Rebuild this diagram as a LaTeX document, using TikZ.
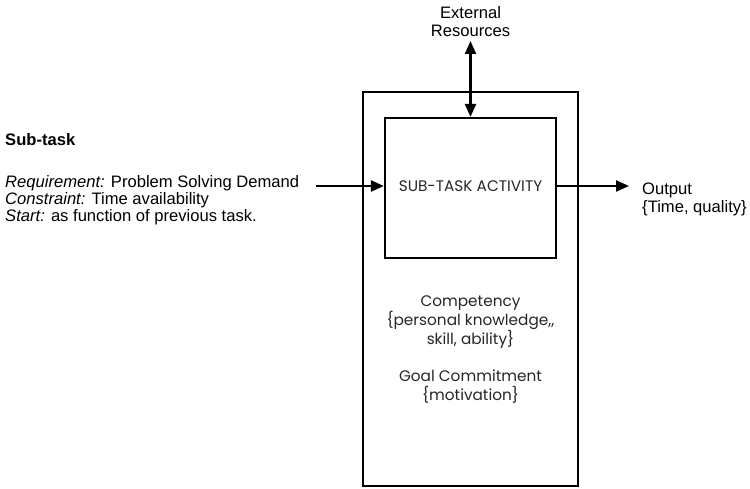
\documentclass[tikz,border=0pt]{standalone}
\usepackage{fontspec}
\setmainfont{Liberation Sans}
\newfontfamily\geofont{Poppins}
\usetikzlibrary{arrows.meta}
\begin{document}
\begin{tikzpicture}[x=1pt,y=-1pt,
  box/.style={draw,line width=2.2pt},
  arr/.style={line width=2.2pt,-{Triangle[length=13pt,width=11pt]}},
  txt/.style={inner sep=0pt,font=\fontsize{16.6}{18}\selectfont},
  geo/.style={inner sep=0pt,align=center,font=\geofont\fontsize{15.3}{19}\selectfont\color{black!85}}]
\useasboundingbox (0,0) rectangle (750,489);
\node[box,minimum width=215pt,minimum height=394pt,inner sep=0pt] (outer) at (470.5,289) {};
\node[box,minimum width=171pt,minimum height=140pt,inner sep=0pt] (inner) at (470.5,188) {};
\node[geo] (act) at (470.5,186) {SUB-TASK ACTIVITY};
\node[txt,align=center] (ext) at (470.5,21.5) {External\\Resources};
\node[txt,align=left,anchor=west] (out) at (642,199) {Output\\\{Time, quality\}};
\node[txt,anchor=base west,font=\fontsize{16.6}{18}\selectfont\bfseries] (sub) at (5,146) {Sub-task};
\node[txt,anchor=base west] (req) at (5,188) {\textit{Requirement:} Problem Solving Demand};
\node[txt,anchor=base west] (con) at (5,205) {\textit{Constraint:} Time availability};
\node[txt,anchor=base west] (sta) at (5,222) {\textit{Start:} as function of previous task.};
\node[geo] (comp) at (470.5,322) {Competency\\\{personal knowledge,,\\skill, ability\}};
\node[geo] (goal) at (470.5,386.5) {Goal Commitment\\\{motivation\}};
\coordinate (lin) at (316,186);
\coordinate (rout) at (629,186);
\coordinate (exttop) at (470.5,41);
\draw[arr] (lin) -- (inner.west |- lin);
\draw[arr] (inner.east |- rout) -- (rout);
\draw[line width=2.2pt,{Triangle[length=13pt,width=11pt]}-{Triangle[length=13pt,width=11pt]}] (exttop) -- (inner.north);
\end{tikzpicture}
\end{document}
